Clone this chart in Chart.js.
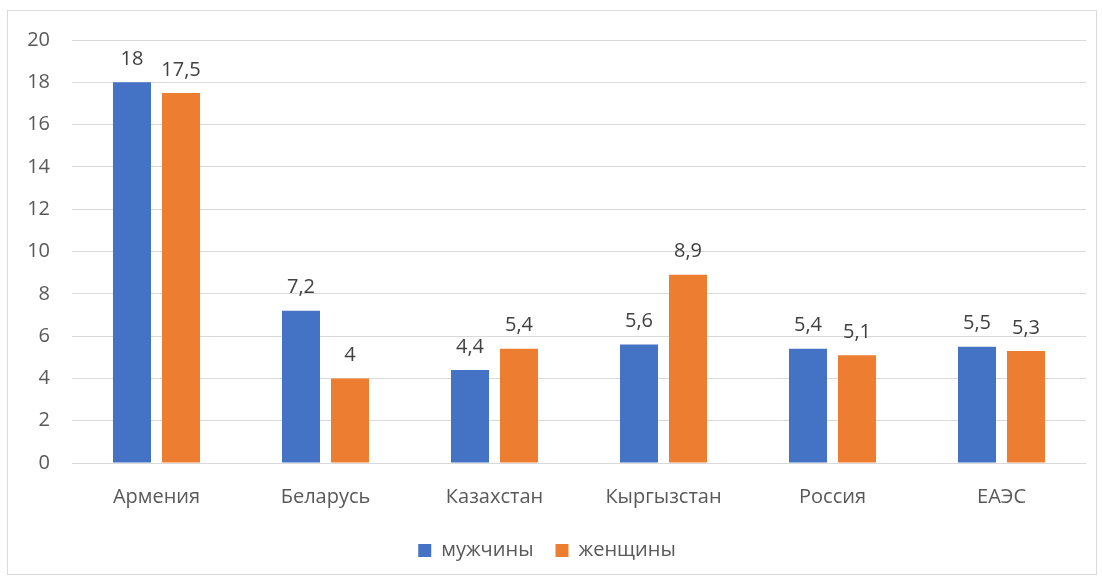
<!DOCTYPE html>
<html>
<head>
<meta charset="utf-8">
<script src="https://cdn.jsdelivr.net/npm/chart.js@4/dist/chart.umd.min.js"></script>
<style>
  body { margin: 0; background: #fff; }
  #box {
    position: absolute; left: 7px; top: 10px;
    width: 1088px; height: 563px;
    border: 1px solid #d9d9d9;
    overflow: hidden;
  }
  #inner {
    position: absolute; left: 0; top: -5px;
    width: 1088px; height: 568px;
  }
</style>
</head>
<body>
<div id="box"><div id="inner"><canvas id="chart"></canvas></div></div>
<script>
const categories = ["Армения", "Беларусь", "Казахстан", "Кыргызстан", "Россия", "ЕАЭС"];
const men = [18, 7.2, 4.4, 5.6, 5.4, 5.5];
const women = [17.5, 4, 5.4, 8.9, 5.1, 5.3];
const seriesNames = ["мужчины", "женщины"];

const textColor = "#595959";
const fontFamily = "'Open Sans', 'Noto Sans', sans-serif";
const fontSize = 20;

// value labels above bars, comma as decimal mark
const valueLabels = {
  id: "valueLabels",
  afterDatasetsDraw(chart) {
    const ctx = chart.ctx;
    ctx.save();
    ctx.font = fontSize + "px " + fontFamily;
    ctx.fillStyle = "#404040";
    ctx.textAlign = "center";
    ctx.textBaseline = "middle";
    chart.data.datasets.forEach((ds, i) => {
      chart.getDatasetMeta(i).data.forEach((bar, j) => {
        const txt = String(ds.data[j]).replace(".", ",");
        ctx.fillText(txt, bar.x, bar.y - 23);
      });
    });
    ctx.restore();
  }
};

new Chart(document.querySelector("#chart"), {
  type: "bar",
  data: {
    labels: categories,
    datasets: [
      { label: seriesNames[0], data: men, backgroundColor: "#4472c4" },
      { label: seriesNames[1], data: women, backgroundColor: "#ed7d31" }
    ]
  },
  options: {
    responsive: true,
    maintainAspectRatio: false,
    animation: false,
    categoryPercentage: 0.58,
    barPercentage: 0.776,
    layout: { padding: { left: 0, right: 10, top: 15, bottom: 3.5 } },
    scales: {
      y: {
        min: 0,
        max: 20,
        ticks: { stepSize: 2, padding: 22, color: textColor, font: { size: fontSize, family: fontFamily } },
        grid: { color: "#d9d9d9", drawTicks: false },
        border: { display: false },
        afterFit(scale) { scale.width = 64; }
      },
      x: {
        ticks: { padding: 22, color: textColor, font: { size: fontSize, family: fontFamily } },
        grid: { display: false, drawTicks: false },
        border: { display: false },
        afterFit(scale) { scale.height = 55.5; }
      }
    },
    plugins: {
      legend: {
        position: "bottom",
        labels: {
          color: textColor,
          font: { size: fontSize, family: fontFamily },
          boxWidth: 13,
          boxHeight: 13,
          padding: 22
        }
      },
      tooltip: { enabled: false }
    }
  },
  plugins: [valueLabels]
});
</script>
</body>
</html>
